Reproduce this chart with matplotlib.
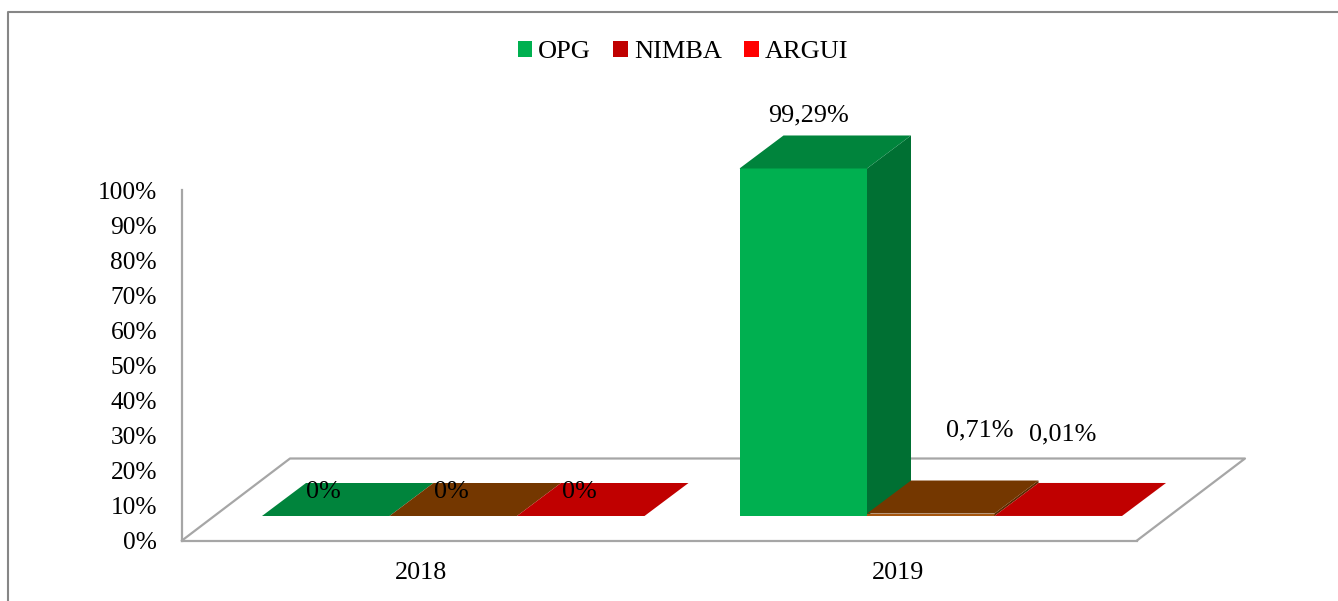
import matplotlib
matplotlib.use('Agg')
import matplotlib.pyplot as plt
from matplotlib.lines import Line2D
from matplotlib.patches import Patch, Polygon

plt.rcParams['font.family'] = ['Liberation Serif', 'DejaVu Serif']

years = ['2018', '2019']
series = ['OPG', 'NIMBA', 'ARGUI']
values = {
    'OPG': [0, 99.29],
    'NIMBA': [0, 0.71],
    'ARGUI': [0, 0.01],
}
value_labels = {
    'OPG': ['0%', '99,29%'],
    'NIMBA': ['0%', '0,71%'],
    'ARGUI': ['0%', '0,01%'],
}
y_ticks = list(range(0, 101, 10))
y_tick_labels = [f'{t}%' for t in y_ticks]

legend_colors = ['#00B050', '#C00000', '#FF0000']
front_colors = ['#00B050', '#A5560F', '#C00000']
top_colors = ['#00843C', '#743700', '#C00000']
side_colors = ['#007033', '#5A2B00', '#900000']
line_color = '#A6A6A6'
font_size = 18.8

W, H = 1338, 601
fig = plt.figure(figsize=(W / 100, H / 100), dpi=100)
ax = fig.add_axes([182 / W, (H - 540.5) / H, 955 / W, 350 / H])
ax.set_xlim(-0.5, 1.5)
ax.set_ylim(0, 100)
ax.patch.set_alpha(0)

# pixel sizes of the fake 3d look, turned into data units
px_x = 2 / 955
px_y = 100 / 350
floor_dx, floor_dy = 108 * px_x, 82 * px_y
bar_w = 127.5 * px_x
depth_dx, depth_dy = 44 * px_x, 33 * px_y
base_dx, base_dy = 31.5 * px_x, 24.5 * px_y
group_shift = 1 * px_x


def poly(points, color, zorder=3):
    ax.add_patch(Polygon(points, closed=True, facecolor=color, edgecolor='none',
                         clip_on=False, zorder=zorder))


def draw_bar(x0, value, i):
    x1 = x0 + bar_w
    y0 = base_dy
    y1 = y0 + value
    poly([(x0, y0), (x1, y0), (x1, y1), (x0, y1)], front_colors[i])
    poly([(x1, y0), (x1 + depth_dx, y0 + depth_dy), (x1 + depth_dx, y1 + depth_dy), (x1, y1)], side_colors[i])
    poly([(x0, y1), (x1, y1), (x1 + depth_dx, y1 + depth_dy), (x0 + depth_dx, y1 + depth_dy)], top_colors[i])


# floor
floor_x = [-0.5, -0.5 + floor_dx, 1.5 + floor_dx, 1.5]
floor_y = [0, floor_dy, floor_dy, 0]
ax.plot(floor_x, floor_y, color=line_color, lw=1.6, clip_on=False, zorder=1)

# pixel offset of each label from the front left corner of its bar top
label_offsets = [
    [(61, 24), (69, 53)],
    [(62, 24), (113, 83)],
    [(62, 24), (68, 82)],
]

for i, name in enumerate(series):
    for j, val in enumerate(values[name]):
        x0 = j + group_shift + base_dx + (i - 1.5) * bar_w
        draw_bar(x0, val, i)
        off = label_offsets[i][j]
        ax.text(x0 + off[0] * px_x, base_dy + val + off[1] * px_y, value_labels[name][j],
                fontsize=font_size, ha='center', va='center', color='black', zorder=6, clip_on=False)

ax.spines['top'].set_visible(False)
ax.spines['right'].set_visible(False)
for side in ['left', 'bottom']:
    ax.spines[side].set_color(line_color)
    ax.spines[side].set_linewidth(1.6)

ax.set_yticks(y_ticks, y_tick_labels, fontsize=18.3)
ax.set_xticks([0, 1], years, fontsize=font_size)
ax.tick_params(axis='y', length=0, pad=18)
ax.tick_params(axis='x', length=0, pad=15.5)
for lab in ax.get_yticklabels():
    lab.set_y(lab.get_position()[1])

handles = [Patch(facecolor=c, edgecolor='none') for c in legend_colors]
fig.legend(handles, series, loc='center', bbox_to_anchor=(683 / W, (H - 52) / H), ncol=3,
           frameon=False, fontsize=19, handlelength=0.56, handleheight=0.56,
           handletextpad=0.22, columnspacing=0.85, borderpad=0)

# outer frame, only the left and top sides are visible
fig.add_artist(Line2D([8 / W, 8 / W, 1], [0, (H - 12) / H, (H - 12) / H], color='#868686', lw=1.5))

fig.savefig('out.png', dpi=100)
